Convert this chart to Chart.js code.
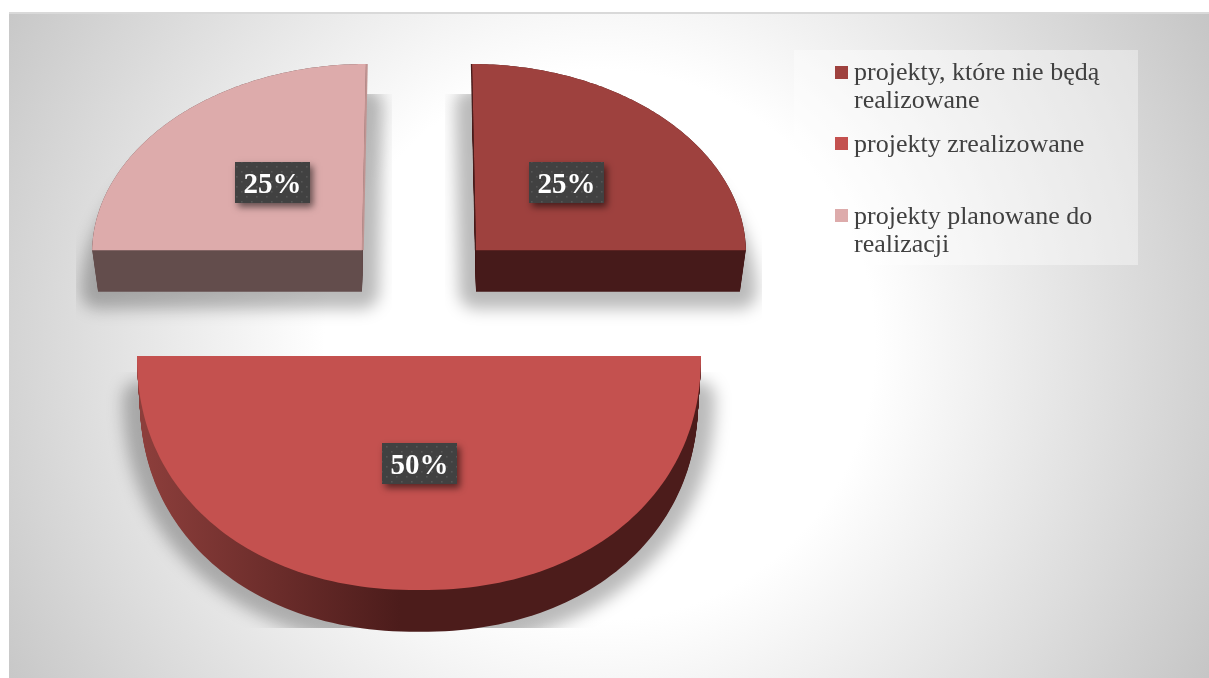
<!DOCTYPE html>
<html lang="pl"><head><meta charset="utf-8">
<script src="https://cdn.jsdelivr.net/npm/chart.js@4"></script>
<style>
html,body{margin:0;padding:0;background:#fff;overflow:hidden}
#panel{position:absolute;left:9px;top:12px;width:1200px;height:666px;box-sizing:border-box;border-top:2px solid #d9d9d9;
background:radial-gradient(circle 705px at 591px 331px,#fff 0,#fff 39%,#c4c4c4 100%)}
canvas{position:absolute;left:0;top:0}
</style></head><body>
<div id="panel"></div>
<canvas id="c" width="1209" height="678"></canvas>
<script>
const categories=[["projekty, które nie będą","realizowane"],["projekty zrealizowane"],["projekty planowane do","realizacji"]];
const shareValues=[25,50,25];
const valueLabels=["25%","50%","25%"];
const faceColours=["#9e413e","#c4514f","#ddabab"];
const sideColours=["#461a1a","#4c1c1b","#634d4c"];
const edgeColours=["#4a1d1c",null,"#c09391"];

// Look of the exploded, tilted pie, as fractions of the pie radius
const explodeX=0.286, explodeY=0.22, depth=0.148;
const sliceLook=[
 {rx:0.957,ry:0.66,skew:0.0142,shrink:0.022,round:1,clip:[445,94,762,335],nudge:[-2,-3]},
 {rx:1,ry:0.83,skew:0,shrink:0.01,round:0.93,clip:[100,372,745,628],nudge:[0,-7]},
 {rx:0.957,ry:0.66,skew:-0.0142,shrink:0.022,round:1,clip:[76,94,392,335],nudge:[3,-3]}
];
const shadowSpread=17, shadowBlur=8, shadowAlpha=0.27;
const legendBox=[794,50,344,215];
const legendMarks=[[835,66],[835,137],[835,209]];
const legendBase=[[80,108],[152],[224,252]];

function bend(v,q){return Math.sign(v)*Math.pow(Math.abs(v),q);}
function pt(arc,look,a,f,t){
 const R=arc.outerRadius, mid=(arc.startAngle+arc.endAngle)/2;
 const c=bend(Math.cos(a),look.round), s=bend(Math.sin(a),look.round);
 return [
  arc.x+R*(explodeX*Math.cos(mid)+f*(look.rx*(1-look.shrink*t)*c+look.skew*s)),
  arc.y+R*(explodeY*Math.sin(mid)+depth*t+f*look.ry*s)
 ];
}
function sector(ctx,arc,look,t){
 const p0=pt(arc,look,0,0,t);
 ctx.moveTo(p0[0],p0[1]);
 const n=120;
 for(let i=0;i<=n;i++){
  const a=arc.startAngle+(arc.endAngle-arc.startAngle)*i/n;
  const p=pt(arc,look,a,1,t);
  ctx.lineTo(p[0],p[1]);
 }
 ctx.closePath();
}
function dots(ctx){
 const c=document.createElement('canvas');c.width=c.height=10;
 const x=c.getContext('2d');x.fillStyle='#414141';x.fillRect(0,0,10,10);
 x.fillStyle='#565656';x.fillRect(1,1,1.6,1.6);x.fillRect(6,6,1.6,1.6);
 return ctx.createPattern(c,'repeat');
}
const pie3d={
 id:'pie3d',
 beforeDatasetsDraw(chart){
  const ctx=chart.ctx, arcs=chart.getDatasetMeta(0).data;
  // soft shadows under the lower rim, cut by the picture's shadow boxes
  arcs.forEach((arc,i)=>{
   const look=sliceLook[i], b=look.clip;
   const off=document.createElement('canvas');off.width=chart.width;off.height=chart.height;
   const o=off.getContext('2d');
   o.fillStyle=o.strokeStyle='#000';o.lineWidth=shadowSpread*2;o.lineJoin='round';
   o.beginPath();sector(o,arc,look,1);o.fill();o.stroke();
   ctx.save();
   ctx.beginPath();ctx.rect(b[0],b[1],b[2]-b[0],b[3]-b[1]);ctx.clip();
   ctx.filter='blur('+shadowBlur+'px)';ctx.globalAlpha=shadowAlpha;
   ctx.drawImage(off,0,0);
   ctx.restore();
  });
  arcs.forEach((arc,i)=>{
   const look=sliceLook[i];
   let side=sideColours[i];
   if(i===1){
    const g=ctx.createLinearGradient(145,0,400,0);
    g.addColorStop(0,'#8c3e3b');g.addColorStop(1,sideColours[i]);side=g;
   }
   ctx.fillStyle=side;
   const steps=Math.round(depth*arc.outerRadius);
   for(let s=steps;s>=0;s--){
    ctx.beginPath();sector(ctx,arc,look,s/steps);ctx.fill();
   }
   ctx.fillStyle=arc.options.backgroundColor;
   ctx.beginPath();sector(ctx,arc,look,0);ctx.fill();
   if(edgeColours[i]){
    const ang=i===0?arc.startAngle:arc.endAngle, shift=i===0?-0.6:0.8;
    const p=pt(arc,look,ang,0,0), q=pt(arc,look,ang,1,0);
    ctx.strokeStyle=edgeColours[i];ctx.lineWidth=i===0?1.2:2;
    ctx.beginPath();ctx.moveTo(p[0]+shift,p[1]);ctx.lineTo(q[0]+shift,q[1]);ctx.stroke();
   }
  });
  const pattern=dots(ctx);
  arcs.forEach((arc,i)=>{
   const look=sliceLook[i], mid=(arc.startAngle+arc.endAngle)/2;
   const p=pt(arc,look,mid,0.49,0);
   const w=75,h=41,x=Math.round(p[0]-w/2+look.nudge[0]),y=Math.round(p[1]-h/2+look.nudge[1]);
   ctx.save();
   ctx.shadowColor='rgba(0,0,0,0.55)';ctx.shadowBlur=7;ctx.shadowOffsetX=3;ctx.shadowOffsetY=4;
   ctx.fillStyle='#414141';ctx.fillRect(x,y,w,h);
   ctx.restore();
   ctx.fillStyle=pattern;ctx.fillRect(x,y,w,h);
   ctx.fillStyle='#fff';ctx.font='bold 29px "Liberation Serif"';
   ctx.textAlign='center';ctx.textBaseline='middle';
   ctx.fillText(valueLabels[i],x+w/2,y+h/2+3);
  });
  // legend
  ctx.fillStyle='rgba(255,255,255,0.38)';
  ctx.fillRect(legendBox[0],legendBox[1],legendBox[2],legendBox[3]);
  categories.forEach((lines,i)=>{
   ctx.fillStyle=faceColours[i];
   ctx.fillRect(legendMarks[i][0],legendMarks[i][1],13,13);
   ctx.fillStyle='#404040';ctx.font='26px "Liberation Serif"';
   ctx.textAlign='left';ctx.textBaseline='alphabetic';
   lines.forEach((l,k)=>ctx.fillText(l,854,legendBase[i][k]));
  });
  return false;
 }
};
new Chart(document.getElementById('c'),{
 type:'pie',
 data:{labels:categories,datasets:[{data:shareValues,backgroundColor:faceColours,borderWidth:0}]},
 options:{responsive:false,animation:false,devicePixelRatio:1,
  layout:{padding:{left:137,right:508,top:12,bottom:102}},
  plugins:{legend:{display:false},tooltip:{enabled:false}}},
 plugins:[pie3d]
});
</script></body></html>
